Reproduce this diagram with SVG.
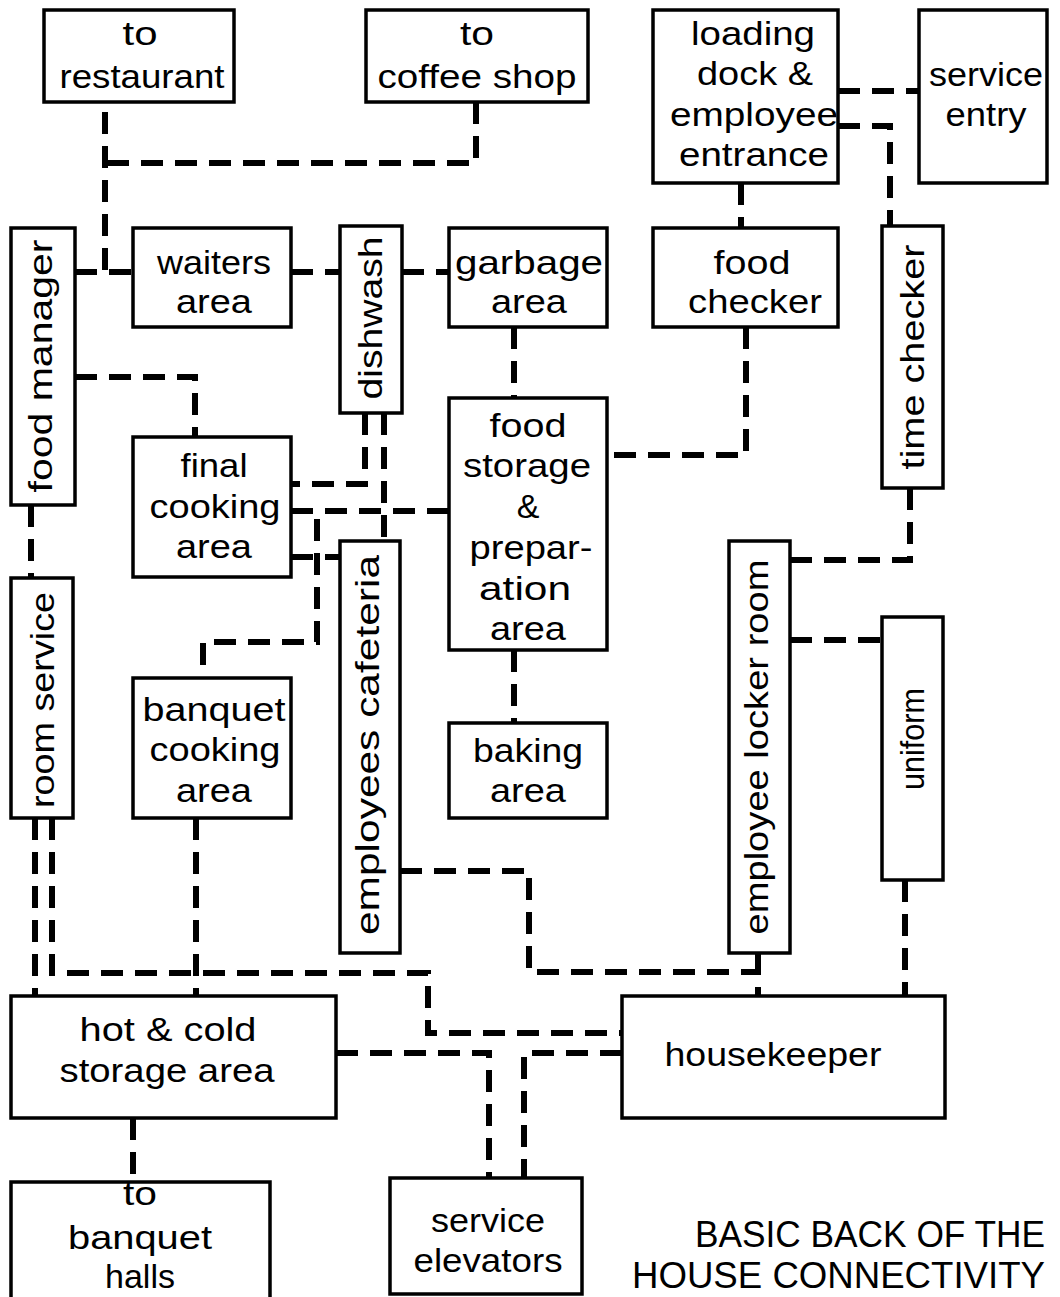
<svg xmlns="http://www.w3.org/2000/svg" width="1060" height="1297" viewBox="0 0 1060 1297">
<style>
.box{fill:#fff;stroke:#000;stroke-width:3.5}
.t{font-family:"Liberation Sans",Arial,sans-serif;font-size:34px;fill:#000;text-anchor:middle}
.ttl{font-family:"Liberation Sans",Arial,sans-serif;font-size:36px;fill:#000;text-anchor:end}
.c{fill:none;stroke:#000;stroke-width:6;stroke-dasharray:22 12}
</style>
<rect width="1060" height="1297" fill="#fff"/>
<g id="connectors">
<path class="c" d="M105 112 V272"/>
<path class="c" d="M476 102 V163 H105"/>
<path class="c" d="M75 272 H133"/>
<path class="c" d="M291 272 H340"/>
<path class="c" d="M402 272 H449"/>
<path class="c" d="M741 183 V228"/>
<path class="c" d="M838 91 H919"/>
<path class="c" d="M838 126 H890 V226"/>
<path class="c" d="M514 327 V398"/>
<path class="c" d="M746 327 V455 H607"/>
<path class="c" d="M75 377 H195 V437"/>
<path class="c" d="M31 505 V578"/>
<path class="c" d="M365 413 V484 H291"/>
<path class="c" d="M384 413 V541"/>
<path class="c" d="M291 511 H449"/>
<path class="c" d="M291 511 H317 V642 H203 V678"/>
<path class="c" d="M291 557 H340"/>
<path class="c" d="M35 818 V996"/>
<path class="c" d="M52 818 V973 H428 V1033 H622"/>
<path class="c" d="M196 818 V996"/>
<path class="c" d="M400 871 H529 V972 H758"/>
<path class="c" d="M758 953 V996"/>
<path class="c" d="M905 880 V996"/>
<path class="c" d="M910 488 V560 H790"/>
<path class="c" d="M790 640 H882"/>
<path class="c" d="M514 650 V723"/>
<path class="c" d="M336 1053 H489 V1178"/>
<path class="c" d="M622 1053 H524 V1178"/>
<path class="c" d="M133 1118 V1182"/>
</g>
<g id="to-restaurant"><rect class="box" x="44" y="10" width="190" height="92"/>
<text class="t" x="140" y="45" textLength="35" lengthAdjust="spacingAndGlyphs">to</text>
<text class="t" x="142" y="88" textLength="165" lengthAdjust="spacingAndGlyphs">restaurant</text></g>
<g id="to-coffee-shop"><rect class="box" x="366" y="10" width="222" height="92"/>
<text class="t" x="477" y="45" textLength="34" lengthAdjust="spacingAndGlyphs">to</text>
<text class="t" x="477" y="88" textLength="199" lengthAdjust="spacingAndGlyphs">coffee shop</text></g>
<g id="loading-dock"><rect class="box" x="653" y="10" width="185" height="173"/>
<text class="t" x="753" y="45" textLength="124" lengthAdjust="spacingAndGlyphs">loading</text>
<text class="t" x="755" y="85" textLength="116" lengthAdjust="spacingAndGlyphs">dock &amp;</text>
<text class="t" x="754" y="126" textLength="168" lengthAdjust="spacingAndGlyphs">employee</text>
<text class="t" x="754" y="166" textLength="150" lengthAdjust="spacingAndGlyphs">entrance</text></g>
<g id="service-entry"><rect class="box" x="919" y="10" width="128" height="173"/>
<text class="t" x="986" y="86" textLength="114" lengthAdjust="spacingAndGlyphs">service</text>
<text class="t" x="986" y="126" textLength="81" lengthAdjust="spacingAndGlyphs">entry</text></g>
<g id="food-manager"><rect class="box" x="11" y="228" width="64" height="277"/>
<text class="t" transform="translate(43 366) rotate(-90)" x="0" y="9" textLength="253" lengthAdjust="spacingAndGlyphs">food manager</text></g>
<g id="waiters-area"><rect class="box" x="133" y="228" width="158" height="99"/>
<text class="t" x="214" y="274" textLength="114" lengthAdjust="spacingAndGlyphs">waiters</text>
<text class="t" x="214" y="313" textLength="76" lengthAdjust="spacingAndGlyphs">area</text></g>
<g id="dishwash"><rect class="box" x="340" y="226" width="62" height="187"/>
<text class="t" transform="translate(371 318) rotate(-90)" x="0" y="11" textLength="163" lengthAdjust="spacingAndGlyphs">dishwash</text></g>
<g id="garbage-area"><rect class="box" x="449" y="228" width="158" height="99"/>
<text class="t" x="529" y="274" textLength="148" lengthAdjust="spacingAndGlyphs">garbage</text>
<text class="t" x="529" y="313" textLength="76" lengthAdjust="spacingAndGlyphs">area</text></g>
<g id="food-checker"><rect class="box" x="653" y="228" width="185" height="99"/>
<text class="t" x="752" y="274" textLength="77" lengthAdjust="spacingAndGlyphs">food</text>
<text class="t" x="755" y="313" textLength="134" lengthAdjust="spacingAndGlyphs">checker</text></g>
<g id="time-checker"><rect class="box" x="882" y="226" width="61" height="262"/>
<text class="t" transform="translate(912 357) rotate(-90)" x="0" y="12" textLength="225" lengthAdjust="spacingAndGlyphs">time checker</text></g>
<g id="final-cooking-area"><rect class="box" x="133" y="437" width="158" height="140"/>
<text class="t" x="214" y="477" textLength="67" lengthAdjust="spacingAndGlyphs">final</text>
<text class="t" x="215" y="518" textLength="131" lengthAdjust="spacingAndGlyphs">cooking</text>
<text class="t" x="214" y="558" textLength="76" lengthAdjust="spacingAndGlyphs">area</text></g>
<g id="food-storage"><rect class="box" x="449" y="398" width="158" height="252"/>
<text class="t" x="528" y="437" textLength="77" lengthAdjust="spacingAndGlyphs">food</text>
<text class="t" x="527" y="477" textLength="128" lengthAdjust="spacingAndGlyphs">storage</text>
<text class="t" x="528" y="518">&amp;</text>
<text class="t" x="531" y="559" textLength="123" lengthAdjust="spacingAndGlyphs">prepar-</text>
<text class="t" x="525" y="600" textLength="92" lengthAdjust="spacingAndGlyphs">ation</text>
<text class="t" x="528" y="640" textLength="76" lengthAdjust="spacingAndGlyphs">area</text></g>
<g id="employees-cafeteria"><rect class="box" x="340" y="541" width="60" height="412"/>
<text class="t" transform="translate(370 745) rotate(-90)" x="0" y="9" textLength="380" lengthAdjust="spacingAndGlyphs">employees cafeteria</text></g>
<g id="room-service"><rect class="box" x="11" y="578" width="62" height="240"/>
<text class="t" transform="translate(42 700) rotate(-90)" x="0" y="12" textLength="216" lengthAdjust="spacingAndGlyphs">room service</text></g>
<g id="banquet-cooking-area"><rect class="box" x="133" y="678" width="158" height="140"/>
<text class="t" x="214" y="721" textLength="143" lengthAdjust="spacingAndGlyphs">banquet</text>
<text class="t" x="215" y="761" textLength="131" lengthAdjust="spacingAndGlyphs">cooking</text>
<text class="t" x="214" y="802" textLength="76" lengthAdjust="spacingAndGlyphs">area</text></g>
<g id="baking-area"><rect class="box" x="449" y="723" width="158" height="95"/>
<text class="t" x="528" y="762" textLength="110" lengthAdjust="spacingAndGlyphs">baking</text>
<text class="t" x="528" y="802" textLength="76" lengthAdjust="spacingAndGlyphs">area</text></g>
<g id="employee-locker-room"><rect class="box" x="729" y="541" width="61" height="412"/>
<text class="t" transform="translate(759 747) rotate(-90)" x="0" y="9" textLength="375" lengthAdjust="spacingAndGlyphs">employee locker room</text></g>
<g id="uniform"><rect class="box" x="882" y="617" width="61" height="263"/>
<text class="t" transform="translate(912 739) rotate(-90)" x="0" y="12" textLength="102" lengthAdjust="spacingAndGlyphs">uniform</text></g>
<g id="hot-cold-storage"><rect class="box" x="11" y="996" width="325" height="122"/>
<text class="t" x="168" y="1041" textLength="177" lengthAdjust="spacingAndGlyphs">hot &amp; cold</text>
<text class="t" x="167" y="1082" textLength="215" lengthAdjust="spacingAndGlyphs">storage area</text></g>
<g id="housekeeper"><rect class="box" x="622" y="996" width="323" height="122"/>
<text class="t" x="773" y="1066" textLength="217" lengthAdjust="spacingAndGlyphs">housekeeper</text></g>
<g id="to-banquet-halls"><rect class="box" x="11" y="1182" width="259" height="125"/>
<text class="t" x="140" y="1205" textLength="34" lengthAdjust="spacingAndGlyphs">to</text>
<text class="t" x="140" y="1249" textLength="144" lengthAdjust="spacingAndGlyphs">banquet</text>
<text class="t" x="140" y="1288" textLength="70" lengthAdjust="spacingAndGlyphs">halls</text></g>
<g id="service-elevators"><rect class="box" x="390" y="1178" width="192" height="116"/>
<text class="t" x="488" y="1232" textLength="114" lengthAdjust="spacingAndGlyphs">service</text>
<text class="t" x="488" y="1272" textLength="149" lengthAdjust="spacingAndGlyphs">elevators</text></g>
<g id="title">
<text class="ttl" x="1045" y="1247" textLength="350" lengthAdjust="spacingAndGlyphs">BASIC BACK OF THE</text>
<text class="ttl" x="1045" y="1288" textLength="413" lengthAdjust="spacingAndGlyphs">HOUSE CONNECTIVITY</text>
</g>
</svg>
